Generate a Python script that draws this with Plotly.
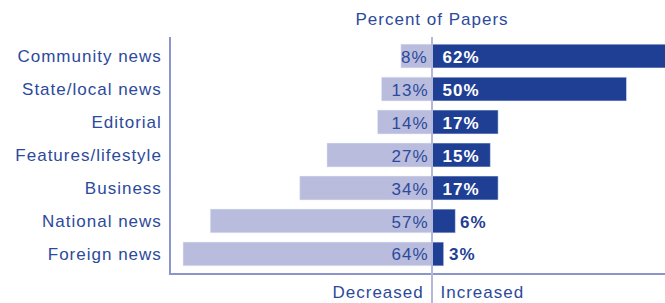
import plotly.graph_objects as go

categories = ["Community news", "State/local news", "Editorial", "Features/lifestyle",
              "Business", "National news", "Foreign news"]
decreased = [8, 13, 14, 27, 34, 57, 64]
increased = [62, 50, 17, 15, 17, 6, 3]

DARK = "#1f3f95"
LIGHT = "#b9bcdd"
TEXT = "#2c4a9b"
AXIS = "#8c94cc"
CENTER = "#b3b7dc"
FONT = "Liberation Sans"

fig = go.Figure()
fig.add_trace(go.Bar(y=categories, x=[-v for v in decreased], orientation="h",
                     marker_color=LIGHT, width=0.72, hoverinfo="skip"))
fig.add_trace(go.Bar(y=categories, x=increased, orientation="h",
                     marker_color=DARK, width=0.72, hoverinfo="skip"))

# value labels
for cat, v in zip(categories, decreased):
    fig.add_annotation(x=0, y=cat, xref="x", yref="y", text=f"{v}%", showarrow=False,
                       xanchor="right", yanchor="middle", xshift=-3, yshift=-1,
                       font=dict(family=FONT, size=17, color=TEXT))
for cat, v in zip(categories, increased):
    ins = v >= 10
    fig.add_annotation(x=0 if ins else v, y=cat, xref="x", yref="y", text=f"<b>{v}%</b>",
                       showarrow=False, xanchor="left", yanchor="middle",
                       xshift=10 if ins else 4, yshift=-1,
                       font=dict(family=FONT, size=17, color="white" if ins else DARK))

fig.add_shape(type="line", xref="x", yref="paper", x0=0, x1=0, y0=-0.13, y1=1,
              line=dict(color=CENTER, width=2), layer="above")

fig.add_annotation(text="Percent of Papers", x=0, xref="x", y=1, yref="paper",
                   yanchor="middle", xanchor="center", yshift=18, showarrow=False,
                   font=dict(family=FONT, size=17, color=TEXT))
fig.add_annotation(text="Decreased", x=0, xref="x", y=0, yref="paper",
                   yanchor="middle", xanchor="right", xshift=-11, yshift=-19, showarrow=False,
                   font=dict(family=FONT, size=17, color=TEXT))
fig.add_annotation(text="Increased", x=0, xref="x", y=0, yref="paper",
                   yanchor="middle", xanchor="left", xshift=11, yshift=-19, showarrow=False,
                   font=dict(family=FONT, size=17, color=TEXT))

fig.update_layout(
    width=665, height=303,
    margin=dict(l=171, r=0, t=37, b=30),
    barmode="overlay",
    showlegend=False,
    plot_bgcolor="white", paper_bgcolor="white",
    xaxis=dict(range=[-67.1, 59.9], showgrid=False, zeroline=False, showticklabels=False,
               showline=True, linecolor=AXIS, linewidth=1.5, fixedrange=True),
    yaxis=dict(range=[6.576, -0.576], showgrid=False, zeroline=False,
               showline=True, linecolor=AXIS, linewidth=1.5, ticks="",
               ticklabelstandoff=4,
               tickfont=dict(family=FONT, size=17, color=TEXT), fixedrange=True),
)

post = """
document.body.style.margin='0';
document.querySelectorAll('.main-svg text').forEach(function(t){t.setAttribute('letter-spacing','1px');});
"""
fig.write_html("out.html", post_script=post, config={"displayModeBar": False})
